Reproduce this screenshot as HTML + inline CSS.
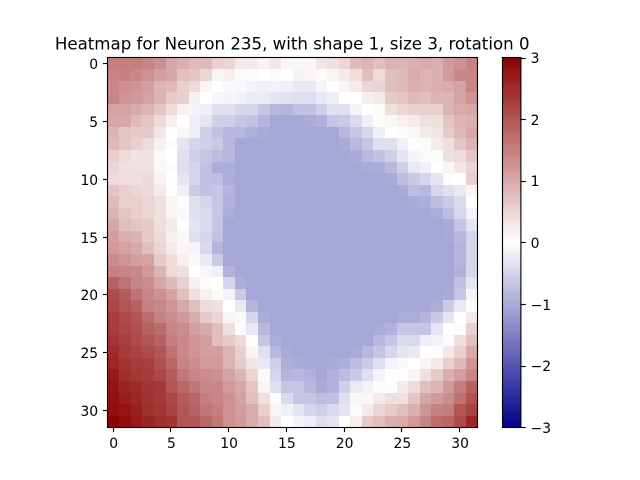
<!DOCTYPE html>
<html>
<head>
<meta charset="utf-8">
<title>Heatmap for Neuron 235</title>
<style>
html,body{margin:0;padding:0;background:#fff;width:640px;height:480px;overflow:hidden}
svg{display:block}
text{font-family:"DejaVu Sans","Liberation Sans",sans-serif;fill:#000}
</style>
</head>
<body>
<svg id="chart" xmlns="http://www.w3.org/2000/svg" width="640" height="480" viewBox="0 0 640 480">
<defs>
<linearGradient id="cbar-gradient" x1="0" y1="1" x2="0" y2="0">
<stop offset="0" stop-color="#00008b"/>
<stop offset="0.5" stop-color="#ffffff"/>
<stop offset="1" stop-color="#8b0000"/>
</linearGradient>
</defs>
<text x="292.2" y="49.3" font-size="16.64" text-anchor="middle">Heatmap for Neuron 235, with shape 1, size 3, rotation 0</text>
<g id="cells" shape-rendering="crispEdges"></g>
<g id="xticks"></g>
<g id="yticks"></g>
<rect x="107.5" y="57.5" width="370" height="370" fill="none" stroke="#000" stroke-width="1.11"/>
<rect x="502.5" y="57.5" width="18.4" height="370" fill="url(#cbar-gradient)"/>
<g id="cticks"></g>
<rect x="502.5" y="57.5" width="18.4" height="370" fill="none" stroke="#000" stroke-width="1.11"/>
</svg>
<script>
const xTickLabels = [0, 5, 10, 15, 20, 25, 30];
const yTickLabels = [0, 5, 10, 15, 20, 25, 30];
const colorbarTicks = [-3, -2, -1, 0, 1, 2, 3];
const colorMin = -3;
const colorMax = 3;
const heatmapValues = [
[1.52,1.52,1.52,1.44,1.3,1.03,.94,.81,.81,.56,.5,.25,.25,.13,.31,.13,.1,.1,.31,.38,.5,.81,.88,.75,.88,.88,.94,1,.94,1.2,1.3,1.48],
[1.44,1.48,1.4,1.3,1.14,1.03,.75,.69,.5,.13,.19,.06,.04,0,.06,0,-.13,-.1,.06,.13,.25,.38,.75,.44,.75,.81,1,.88,.94,1.2,1.4,1.44],
[1.4,1.3,1.25,1.14,.88,.81,.56,.44,.13,0,-.06,-.09,-.15,-.19,-.15,-.19,-.26,-.26,-.13,0,.13,.25,.5,.52,.75,.81,.94,.88,.94,1,1.09,1.44],
[1.44,1.25,1.2,1.09,.88,.62,.56,.19,0,-.1,-.13,-.16,-.23,-.23,-.32,-.35,-.38,-.38,-.26,-.19,0,0,.19,.25,.62,.69,.81,.75,.88,.88,1.09,1.25],
[1.09,1.09,1,.88,.69,.44,.19,-.13,-.19,-.38,-.38,-.5,-.5,-.68,-.83,-.88,-.73,-.73,-.56,-.38,-.38,-.13,0,.06,.38,.5,.56,.56,.56,.88,1,1.03],
[1.03,1.03,.81,.69,.44,.19,0,-.19,-.32,-.56,-.56,-.68,-.73,-.88,-1.03,-1.03,-1.03,-.98,-.92,-.68,-.62,-.44,-.19,-.04,.1,.19,.25,.38,.38,.69,.88,.94],
[.88,.69,.62,.62,.31,0,-.1,-.19,-.56,-.73,-.83,-.83,-.95,-1,-1.03,-1.03,-1.03,-1.03,-1.03,-1.03,-.83,-.68,-.5,-.19,0,.04,.1,.25,.31,.62,.81,1.03],
[.81,.69,.55,.42,.19,-.04,-.32,-.5,-.56,-.62,-.83,-1.03,-1.03,-1.03,-1.03,-1.03,-1.03,-1.03,-1.03,-1.03,-1,-.83,-.68,-.38,-.38,-.19,.03,.06,.23,.38,.69,.88],
[.56,.42,.33,.33,.08,0,-.38,-.56,-.68,-.78,-.83,-1.03,-1.03,-1.03,-1.03,-1.03,-1.03,-1.03,-1.03,-1.03,-1.03,-1,-.83,-.73,-.56,-.32,-.13,-.06,.04,.38,.44,.69],
[.5,.36,.36,.36,.1,-.04,-.38,-.5,-.73,-.95,-.95,-1.03,-1.03,-1.03,-1.03,-1.03,-1.03,-1.03,-1.03,-1.03,-1.03,-1.03,-1,-.98,-.83,-.56,-.26,-.19,0,.13,.31,.5],
[.44,.4,.38,.45,.15,0,-.3,-.5,-.73,-.78,-.98,-1.03,-1.03,-1.03,-1.03,-1.03,-1.03,-1.03,-1.03,-1.03,-1.03,-1.03,-1.03,-1.03,-1,-.78,-.62,-.5,-.32,-.04,0,.56],
[.69,.56,.5,.44,.25,0,-.19,-.62,-.73,-.68,-.88,-1.03,-1.03,-1.03,-1.03,-1.03,-1.03,-1.03,-1.03,-1.03,-1.03,-1.03,-1.03,-1.03,-1.03,-1,-.78,-.83,-.5,-.38,-.26,.13],
[.81,.56,.56,.5,.38,.13,-.03,-.38,-.5,-.68,-.92,-1.03,-1.03,-1.03,-1.03,-1.03,-1.03,-1.03,-1.03,-1.03,-1.03,-1.03,-1.03,-1.03,-1.03,-1.03,-1,-.95,-.78,-.62,-.44,0],
[.88,.69,.56,.5,.38,.13,-.06,-.38,-.44,-.68,-.98,-1.03,-1.03,-1.03,-1.03,-1.03,-1.03,-1.03,-1.03,-1.03,-1.03,-1.03,-1.03,-1.03,-1.03,-1.03,-1.03,-1.03,-.98,-.78,-.48,-.13],
[1.03,.75,.69,.62,.38,.25,0,-.32,-.44,-.68,-1.03,-1.03,-1.03,-1.03,-1.03,-1.03,-1.03,-1.03,-1.03,-1.03,-1.03,-1.03,-1.03,-1.03,-1.03,-1.03,-1.03,-1.03,-1.03,-1,-.68,-.32],
[1.14,.94,.88,.62,.44,.19,.09,-.38,-.5,-.73,-1.03,-1.03,-1.03,-1.03,-1.03,-1.03,-1.03,-1.03,-1.03,-1.03,-1.03,-1.03,-1.03,-1.03,-1.03,-1.03,-1.03,-1.03,-1.03,-1,-.83,-.5],
[1.2,1.09,1,.75,.5,.25,.13,-.13,-.44,-.88,-1.03,-1.03,-1.03,-1.03,-1.03,-1.03,-1.03,-1.03,-1.03,-1.03,-1.03,-1.03,-1.03,-1.03,-1.03,-1.03,-1.03,-1.03,-1.03,-1.03,-.88,-.5],
[1.35,1.25,1.14,1.09,.62,.44,.19,-.08,-.26,-.62,-1.03,-1.03,-1.03,-1.03,-1.03,-1.03,-1.03,-1.03,-1.03,-1.03,-1.03,-1.03,-1.03,-1.03,-1.03,-1.03,-1.03,-1.03,-1.03,-1.03,-.88,-.5],
[1.48,1.44,1.4,1.2,.88,.44,.38,0,-.1,-.19,-.92,-1.03,-1.03,-1.03,-1.03,-1.03,-1.03,-1.03,-1.03,-1.03,-1.03,-1.03,-1.03,-1.03,-1.03,-1.03,-1.03,-1.03,-1.03,-1.03,-.92,-.5],
[1.86,1.66,1.44,1.35,1.03,.81,.56,.19,.06,0,-.5,-.95,-1.03,-1.03,-1.03,-1.03,-1.03,-1.03,-1.03,-1.03,-1.03,-1.03,-1.03,-1.03,-1.03,-1.03,-1.03,-1.03,-1.03,-1.03,-.73,-.32],
[2.1,1.93,1.66,1.44,1.3,1.09,.75,.38,.19,.06,-.13,-.62,-1.03,-1.03,-1.03,-1.03,-1.03,-1.03,-1.03,-1.03,-1.03,-1.03,-1.03,-1.03,-1.03,-1.03,-1.03,-1.03,-1.03,-1,-.68,-.13],
[2.16,2,1.86,1.48,1.4,1.25,1.03,.75,.44,.38,0,-.26,-.88,-1.03,-1.03,-1.03,-1.03,-1.03,-1.03,-1.03,-1.03,-1.03,-1.03,-1.03,-1.03,-1.03,-1.03,-1.03,-.98,-.62,-.26,.06],
[2.3,2.1,2,1.73,1.48,1.35,1.2,1,.62,.5,.13,-.06,-.5,-.98,-1.03,-1.03,-1.03,-1.03,-1.03,-1.03,-1.03,-1.03,-1.03,-1.03,-1.03,-.98,-.98,-.88,-.62,-.32,0,.25],
[2.3,2.16,2.05,1.86,1.73,1.44,1.35,1.14,1,.75,.38,.06,-.26,-.83,-1.03,-1.03,-1.03,-1.03,-1.03,-1.03,-1.03,-1.03,-1.03,-1,-.92,-.68,-.68,-.68,-.32,0,.06,.56],
[2.38,2.26,2.1,2,1.86,1.52,1.4,1.25,1.14,.75,.62,.44,0,-.68,-.98,-1.03,-1.03,-1.03,-1.03,-1.03,-1.03,-1.03,-1.03,-.83,-.68,-.44,-.44,-.19,-.15,-.03,.38,.75],
[2.5,2.3,2.22,2.1,2,1.66,1.4,1.25,1.14,1.14,.88,.56,.13,-.38,-.83,-1,-1.03,-1.03,-1.03,-1.03,-1.03,-1,-.83,-.68,-.5,-.32,-.26,0,.03,.25,.56,1],
[2.54,2.38,2.3,2.26,2.05,1.8,1.44,1.35,1.2,1.2,.88,.62,.31,-.26,-.56,-.95,-1,-1.03,-1.03,-1,-.95,-.78,-.62,-.38,-.13,-.06,0,.13,.23,.56,.81,1.25],
[2.7,2.46,2.38,2.3,2.16,1.93,1.6,1.44,1.35,1.3,1.09,.88,.5,.06,-.5,-.88,-.83,-.92,-1.03,-.92,-.78,-.62,-.38,-.13,0,0,.13,.38,.62,.94,1.14,1.44],
[2.78,2.58,2.5,2.38,2.34,2,1.8,1.6,1.4,1.4,1.2,1.03,.69,.13,-.38,-.68,-.68,-.83,-1,-.92,-.56,-.23,-.13,-.04,.04,.25,.44,.75,.88,1.2,1.52,1.86],
[2.8,2.66,2.54,2.42,2.34,2.16,1.93,1.8,1.52,1.44,1.3,1.09,.75,.38,-.04,-.44,-.68,-.68,-.78,-.73,-.38,-.09,.1,.25,.38,.38,.69,1.03,1.2,1.35,1.66,2.05],
[2.84,2.75,2.62,2.46,2.38,2.22,2,1.86,1.6,1.52,1.3,1.14,1,.56,.13,-.19,-.32,-.5,-.56,-.44,-.32,.04,.25,.5,.62,.75,.94,1.25,1.48,1.52,2,2.22],
[2.95,2.84,2.7,2.58,2.46,2.38,2,2,1.8,1.6,1.3,1.2,1,.75,.25,0,-.13,-.19,-.38,-.32,0,.19,.62,.75,.94,1,1.2,1.44,1.73,1.8,2.1,2.54]
];

const NS = 'http://www.w3.org/2000/svg';
const plotLeft = 107.84, plotTop = 57.6, plotSize = 369.6;
const barLeft = 502.4, barRight = 520.88, barTop = 57.6, barBottom = 427.2;
const cellSize = plotSize / heatmapValues.length;

function xScale(i) { return plotLeft + (i + 0.5) * cellSize; }
function yScale(i) { return plotTop + (i + 0.5) * cellSize; }
function colorScale(v) { return barBottom - (v - colorMin) / (colorMax - colorMin) * (barBottom - barTop); }

function valueColor(v) {
  const t = Math.max(-1, Math.min(1, v / colorMax));
  let r, g, b;
  if (t >= 0) {
    r = 255 + (139 - 255) * t; g = 255 * (1 - t); b = 255 * (1 - t);
  } else {
    const a = -t;
    r = 255 * (1 - a); g = 255 * (1 - a); b = 255 + (139 - 255) * a;
  }
  return 'rgb(' + Math.round(r) + ',' + Math.round(g) + ',' + Math.round(b) + ')';
}

function makeLine(x1, y1, x2, y2) {
  const l = document.createElementNS(NS, 'line');
  l.setAttribute('x1', x1); l.setAttribute('y1', y1);
  l.setAttribute('x2', x2); l.setAttribute('y2', y2);
  l.setAttribute('stroke', '#000');
  l.setAttribute('stroke-width', '1.11');
  return l;
}
function makeText(x, y, anchor, str) {
  const t = document.createElementNS(NS, 'text');
  t.setAttribute('x', x); t.setAttribute('y', y);
  t.setAttribute('font-size', '13.89');
  t.setAttribute('text-anchor', anchor);
  t.textContent = str;
  return t;
}

const cellsG = document.getElementById('cells');
heatmapValues.forEach(function (row, r) {
  row.forEach(function (v, c) {
    const cell = document.createElementNS(NS, 'rect');
    const x0 = Math.round(xScale(c) - cellSize / 2), x1 = Math.round(xScale(c) + cellSize / 2);
    const y0 = Math.round(yScale(r) - cellSize / 2), y1 = Math.round(yScale(r) + cellSize / 2);
    cell.setAttribute('x', x0);
    cell.setAttribute('y', y0);
    cell.setAttribute('width', x1 - x0);
    cell.setAttribute('height', y1 - y0);
    cell.setAttribute('fill', valueColor(v));
    
    
    cellsG.appendChild(cell);
  });
});

const xG = document.getElementById('xticks');
xTickLabels.forEach(function (v) {
  const px = Math.round(xScale(v)) - 0.5;
  const tick = makeLine(px, 427.2, px, 432.1);
  
  
  xG.appendChild(tick);
  const lab = makeText(xScale(v), 448, 'middle', String(v));
  
  
  xG.appendChild(lab);
});

const yG = document.getElementById('yticks');
yTickLabels.forEach(function (v) {
  const py = Math.round(yScale(v)) + 0.5;
  const tick = makeLine(107.84, py, 103, py);
  
  
  yG.appendChild(tick);
  const lab = makeText(98.1, Math.round(yScale(v)) + 6, 'end', String(v));
  
  
  yG.appendChild(lab);
});

const cG = document.getElementById('cticks');
colorbarTicks.forEach(function (v) {
  const py = Math.round(colorScale(v)) + 0.5;
  const tick = makeLine(barRight, py, barRight + 4.9, py);
  
  
  cG.appendChild(tick);
  const str = v < 0 ? '\u2212' + Math.abs(v) : String(v);
  const lab = makeText(530.6, Math.round(colorScale(v) + 5.5), 'start', str);
  
  
  cG.appendChild(lab);
});
</script>
</body>
</html>
